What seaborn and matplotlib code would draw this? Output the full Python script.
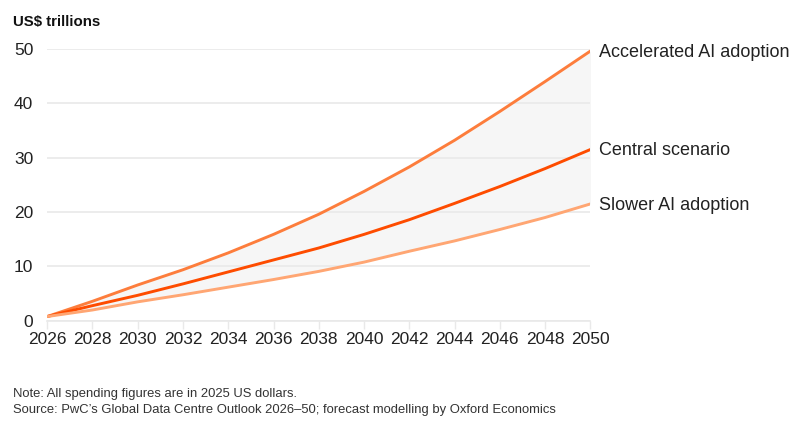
import pandas as pd
import matplotlib
matplotlib.use("Agg")
import matplotlib.pyplot as plt
import seaborn as sns

# values (US$ trillions)
years = [2026, 2028, 2030, 2032, 2034, 2036, 2038, 2040, 2042, 2044, 2046, 2048, 2050]
accelerated = [0.8, 3.6, 6.6, 9.4, 12.5, 15.9, 19.6, 23.8, 28.3, 33.2, 38.5, 44.0, 49.6]
central = [0.8, 2.8, 4.7, 6.8, 9.0, 11.2, 13.4, 15.9, 18.6, 21.6, 24.7, 28.0, 31.5]
slower = [0.8, 2.0, 3.5, 4.8, 6.2, 7.6, 9.1, 10.8, 12.8, 14.7, 16.8, 19.0, 21.5]

scenario_names = ["Accelerated AI adoption", "Central scenario", "Slower AI adoption"]
y_ticks = [0, 10, 20, 30, 40, 50]

colors = {
    "Accelerated AI adoption": "#fd7d3c",
    "Central scenario": "#fe4c00",
    "Slower AI adoption": "#ffa673",
}

df = pd.DataFrame({"year": years * 3,
                   "value": accelerated + central + slower,
                   "scenario": [s for s in scenario_names for _ in years]})

sns.set_theme(style="white")
plt.rcParams["font.family"] = ["Liberation Sans", "DejaVu Sans"]

fig = plt.figure(figsize=(8, 4.25), dpi=100)
ax = fig.add_axes([0.059, 0.245, 0.679, 0.640])

# shaded band between the two outer scenarios
ax.fill_between(years, slower, accelerated, color="#f6f6f6", zorder=1, linewidth=0)

sns.lineplot(data=df, x="year", y="value", hue="scenario", palette=colors,
             linewidth=2.1, legend=False, ax=ax, zorder=3)

# end labels
for name in scenario_names:
    last = df[(df.scenario == name) & (df.year == years[-1])]["value"].iloc[0]
    ax.annotate(name, xy=(years[-1], last), xytext=(6, -1), textcoords="offset points",
                ha="left", va="center", fontsize=13, color="#222222",
                annotation_clip=False)

ax.set_xlim(years[0], years[-1])
ax.set_ylim(0, 50)
ax.set_xticks(years)
ax.set_yticks(y_ticks)
ax.yaxis.grid(True, color="#e9e9e9", linewidth=1.2, zorder=2)
ax.set_axisbelow(False)
for line in ax.get_ygridlines():
    line.set_zorder(2)

for side in ["top", "right", "left"]:
    ax.spines[side].set_visible(False)
ax.spines["bottom"].set_color("#e9e9e9")
ax.spines["bottom"].set_linewidth(1.2)
ax.spines["bottom"].set_zorder(0)

ax.tick_params(axis="x", length=6, width=1, color="#e9e9e9", pad=2,
               labelsize=12.5, labelcolor="#222222", bottom=True)
ax.tick_params(axis="y", length=0, pad=10, labelsize=12.5, labelcolor="#222222")
ax.set_xlabel("")
ax.set_ylabel("")

fig.text(0.016, 0.948, "US$ trillions", fontsize=10.8, fontweight="bold",
         color="#111111", ha="left", va="center")
fig.text(0.016, 0.073, "Note: All spending figures are in 2025 US dollars.",
         fontsize=9.4, color="#333333", ha="left", va="center")
fig.text(0.016, 0.036,
         "Source: PwC\u2019s Global Data Centre Outlook 2026\u201350; forecast modelling by Oxford Economics",
         fontsize=9.4, color="#333333", ha="left", va="center")

fig.savefig("out.png", dpi=100, facecolor="white")
